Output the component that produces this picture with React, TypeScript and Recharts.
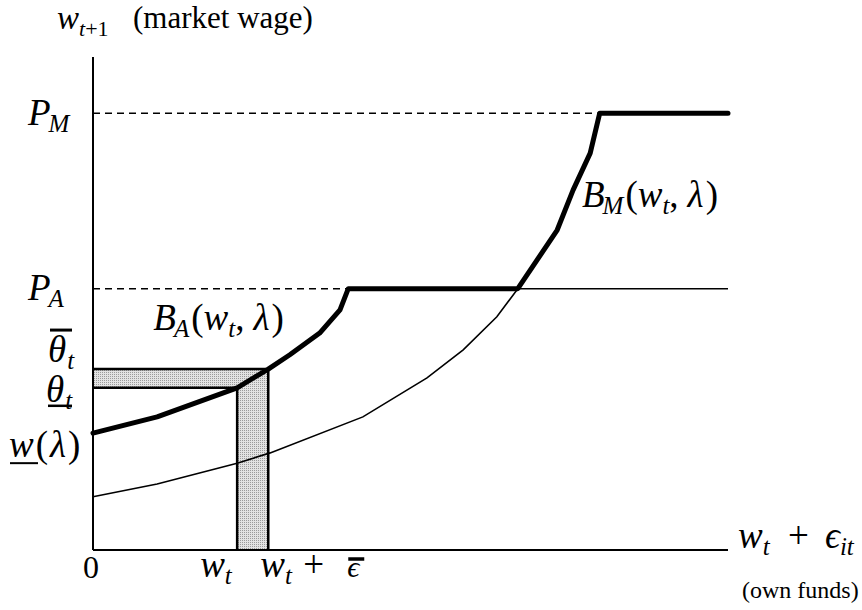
import React from "react"
import {
  ComposedChart,
  Line,
  XAxis,
  YAxis,
  ReferenceLine,
  ReferenceArea,
  ReferenceDot,
} from "recharts"

// levels on the vertical axis
const P_M = 8.86
const P_A = 5.3
const thetaHi = 3.67
const thetaLo = 3.29
const wLow = 2.37
const yTop = 10

// points on the horizontal axis
const wt = 2.27
const wtEps = 2.76
const xEnd = 10

// thick frontier: B_A rising, flat at P_A, B_M rising, flat at P_M
const thickX = [0, 1.01, 2.27, 2.76, 3.1, 3.57, 3.89, 4.02, 6.69, 7.31, 7.56, 7.83, 7.98, 10]
const thickY = [2.37, 2.7, 3.29, 3.67, 3.96, 4.4, 4.87, 5.3, 5.3, 6.49, 7.3, 8.05, 8.86, 8.86]

// thin curve, then the solid P_A line to the right
const thinX = [0, 1.01, 2.27, 2.79, 4.25, 5.26, 5.83, 6.36, 6.69, 10]
const thinY = [1.08, 1.34, 1.76, 1.97, 2.7, 3.49, 4.06, 4.73, 5.3, 5.3]

const kinkA = 4.02
const kinkM = 7.98

const thickData = thickX.map((x, i) => ({ x, y: thickY[i] }))
const thinData = thinX.map((x, i) => ({ x, y: thinY[i] }))

const SERIF = "'Liberation Serif', 'DejaVu Serif', serif"
const FS = 37

type Part = { t: string; it?: boolean; sub?: boolean; dx?: number }

function MathText({ x, y, parts, size = FS, anchor = "start" }: any) {
  let cur = 0
  return (
    <text x={x} y={y} fontFamily={SERIF} fontSize={size} textAnchor={anchor} fill="#000">
      {(parts as Part[]).map((p, i) => {
        const target = p.sub ? Math.round(size * 0.2) : 0
        const dy = target - cur
        cur = target
        return (
          <tspan
            key={i}
            dy={dy}
            dx={p.dx || 0}
            fontSize={p.sub ? Math.round(size * 0.68) : size}
            fontStyle={p.it ? "italic" : "normal"}
          >
            {p.t}
          </tspan>
        )
      })}
    </text>
  )
}

const AX = 93
const AY = 550

function YTick(props: any) {
  const { y, payload } = props
  const x = AX
  const v = payload.value
  if (v === P_M)
    return <MathText x={x - 65} y={y + 12} parts={[{ t: "P", it: true }, { t: "M", it: true, sub: true, dx: -2 }]} />
  if (v === P_A)
    return <MathText x={x - 65} y={y + 11} parts={[{ t: "P", it: true }, { t: "A", it: true, sub: true, dx: -2 }]} />
  if (v === thetaHi)
    return (
      <g>
        <MathText x={x - 45} y={y - 7} parts={[{ t: "θ", it: true }, { t: "t", it: true, sub: true, dx: 1 }]} />
        <line x1={x - 43} x2={x - 21} y1={y - 39} y2={y - 39} stroke="#000" strokeWidth={3} />
      </g>
    )
  if (v === thetaLo)
    return (
      <g>
        <MathText x={x - 47} y={y + 14} parts={[{ t: "θ", it: true }, { t: "t", it: true, sub: true, dx: 1 }]} />
        <line x1={x - 45} x2={x - 21} y1={y + 18} y2={y + 18} stroke="#000" strokeWidth={2.5} />
      </g>
    )
  if (v === wLow)
    return (
      <g>
        <MathText x={x - 84} y={y + 24} parts={[{ t: "w", it: true }, { t: "(", dx: 2 }, { t: "λ", it: true, dx: 2 }, { t: ")", dx: 2 }]} />
        <line x1={x - 83} x2={x - 55} y1={y + 30} y2={y + 30} stroke="#000" strokeWidth={2} />
      </g>
    )
  if (v === yTop)
    return (
      <g>
        <MathText size={33} x={x - 36} y={y - 28} parts={[{ t: "w", it: true }, { t: "t", it: true, sub: true }, { t: "+1", sub: true }]} />
        <text x={x + 40} y={y - 29} fontFamily={SERIF} fontSize={31} fill="#000">(market wage)</text>
      </g>
    )
  return null
}

function XTick(props: any) {
  const { x, payload } = props
  const y = AY
  const v = payload.value
  if (v === 0)
    return <text x={x - 2} y={y + 28} fontFamily={SERIF} fontSize={32} textAnchor="middle" fill="#000">0</text>
  if (v === wt)
    return <MathText x={x - 37} y={y + 27} parts={[{ t: "w", it: true }, { t: "t", it: true, sub: true }]} />
  if (v === wtEps)
    return (
      <g>
        <MathText x={x - 8} y={y + 27} parts={[{ t: "w", it: true }, { t: "t", it: true, sub: true }]} />
        <text x={x + 35} y={y + 27} fontFamily={SERIF} fontSize={FS} fill="#000">+</text>
        <text x={x + 79} y={y + 27} fontFamily={SERIF} fontSize={30} fontStyle="italic" fill="#000">ϵ</text>
        <line x1={x + 80} x2={x + 96} y1={y + 9} y2={y + 9} stroke="#000" strokeWidth={3.5} />
      </g>
    )
  if (v === xEnd)
    return (
      <g>
        <MathText x={x + 10} y={y - 2} parts={[{ t: "w", it: true }, { t: "t", it: true, sub: true }]} />
        <text x={x + 60} y={y - 2} fontFamily={SERIF} fontSize={FS} fill="#000">+</text>
        <MathText x={x + 97} y={y - 2} parts={[{ t: "ϵ", it: true }, { t: "it", it: true, sub: true }]} />
        <text x={x + 14} y={y + 48} fontFamily={SERIF} fontSize={24} fill="#000">(own funds)</text>
      </g>
    )
  return null
}

function BLabel(sub: string) {
  return (p: any) => (
    <MathText
      x={p.cx}
      y={p.cy}
      parts={[
        { t: "B", it: true },
        { t: sub, it: true, sub: true, dx: -2 },
        { t: "(", dx: 2 },
        { t: "w", it: true },
        { t: "t", it: true, sub: true },
        { t: "," },
        { t: "λ", it: true, dx: 9 },
        { t: ")", dx: 2 },
      ]}
    />
  )
}

export default function App() {
  return (
    <div style={{ position: "absolute", left: 0, top: 0, width: 862, height: 610, background: "#fff" }}>
      <ComposedChart width={862} height={610} margin={{ top: 57, right: 134, bottom: 59, left: 92 }}>
        <defs>
          <pattern id="hatch" width="2" height="2" patternUnits="userSpaceOnUse">
            <rect width="2" height="2" fill="#e2e2e2" />
            <rect width="1" height="1" fill="#9a9a9a" />
          </pattern>
        </defs>

        <XAxis
          type="number"
          dataKey="x"
          domain={[0, xEnd]}
          ticks={[0, wt, wtEps, xEnd]}
          height={1}
          tickSize={0}
          tickMargin={0}
          tickLine={false}
          axisLine={{ stroke: "#000", strokeWidth: 2 }}
          tick={<XTick />}
          interval={0}
        />
        <YAxis
          type="number"
          dataKey="y"
          domain={[0, yTop]}
          ticks={[wLow, thetaLo, thetaHi, P_A, P_M, yTop]}
          width={1}
          tickSize={0}
          tickMargin={0}
          tickLine={false}
          axisLine={{ stroke: "#000", strokeWidth: 2 }}
          tick={<YTick />}
          interval={0}
        />

        <ReferenceArea x1={0} x2={wtEps} y1={thetaLo} y2={thetaHi} fill="url(#hatch)" fillOpacity={1} stroke="none" />
        <ReferenceArea x1={wt} x2={wtEps} y1={0} y2={thetaLo} fill="url(#hatch)" fillOpacity={1} stroke="none" />

        <ReferenceLine segment={[{ x: 0, y: thetaHi }, { x: wtEps, y: thetaHi }]} stroke="#000" strokeWidth={2.5} />
        <ReferenceLine segment={[{ x: 0, y: thetaLo }, { x: wt, y: thetaLo }]} stroke="#000" strokeWidth={2.5} />
        <ReferenceLine segment={[{ x: wt, y: 0 }, { x: wt, y: thetaLo }]} stroke="#000" strokeWidth={2.5} />
        <ReferenceLine segment={[{ x: wtEps, y: 0 }, { x: wtEps, y: thetaHi }]} stroke="#000" strokeWidth={2.5} />

        <ReferenceLine segment={[{ x: 0, y: P_M }, { x: kinkM, y: P_M }]} stroke="#000" strokeWidth={1.5} strokeDasharray="7 5" />
        <ReferenceLine segment={[{ x: 0, y: P_A }, { x: kinkA, y: P_A }]} stroke="#000" strokeWidth={1.5} strokeDasharray="7 5" />

        <Line data={thinData} dataKey="y" type="linear" stroke="#000" strokeWidth={1.6} dot={false} activeDot={false} isAnimationActive={false} />
        <Line
          data={thickData}
          dataKey="y"
          type="linear"
          stroke="#000"
          strokeWidth={5}
          strokeLinecap="round"
          strokeLinejoin="round"
          dot={false}
          activeDot={false}
          isAnimationActive={false}
        />

        <ReferenceDot x={0.95} y={4.46} r={0} shape={BLabel("A")} />
        <ReferenceDot x={7.7} y={6.96} r={0} shape={BLabel("M")} />
      </ComposedChart>
    </div>
  )
}
